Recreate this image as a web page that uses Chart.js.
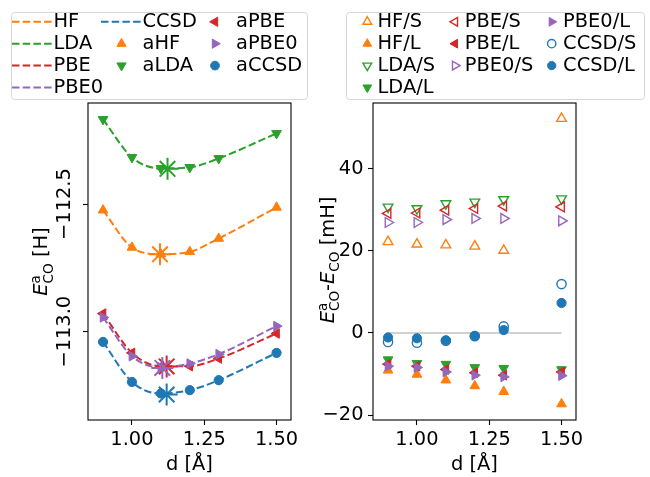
<!DOCTYPE html>
<html lang="en">
<head>
  <meta charset="UTF-8">
  <title>CO energies vs bond length</title>
  <style>
    html, body { margin: 0; padding: 0; background: #fff; }
    #wrap { position: relative; width: 650px; height: 477px; overflow: hidden; }
    canvas { position: absolute; top: 0; }
    #left { left: 0; }
    #right { left: 312px; }
  </style>
</head>
<body>
  <div id="wrap">
    <canvas id="left" width="312" height="477"></canvas>
    <canvas id="right" width="338" height="477"></canvas>
  </div>

  <script src="https://cdn.jsdelivr.net/npm/chart.js"></script>
  <script>
    // bond lengths d [Å]
    const dist = [0.9, 1.0, 1.1, 1.2, 1.3, 1.5];

    // left panel: E^a_CO [H]
    const aHF   = [-112.524, -112.670, -112.696, -112.687, -112.635, -112.513];
    const aLDA  = [-112.168, -112.317, -112.360, -112.356, -112.321, -112.223];
    const aPBE  = [-112.929, -113.083, -113.135, -113.135, -113.105, -113.007];
    const aPBE0 = [-112.944, -113.096, -113.140, -113.125, -113.088, -112.978];
    const aCCSD = [-113.040, -113.197, -113.242, -113.229, -113.190, -113.083];

    // minima of the fitted curves (HF, LDA, PBE, PBE0, CCSD)
    const minX = [1.097, 1.123, 1.120, 1.105, 1.120];
    const minY = [-112.697, -112.362, -113.136, -113.142, -113.246];

    // right panel: E^a_CO - E_CO [mH], small (S) and large (L) basis
    const hfS   = [22.2, 21.6, 21.4, 21.1, 20.1, 52.2];
    const hfL   = [-9.1, -10.1, -11.5, -12.9, -14.3, -17.3];
    const ldaS  = [30.7, 30.3, 31.5, 31.9, 32.5, 32.7];
    const ldaL  = [-6.5, -7.4, -7.6, -8.4, -8.6, -8.9];
    const pbeS  = [29.1, 29.2, 29.9, 30.3, 30.9, 30.7];
    const pbeL  = [-7.6, -8.1, -8.9, -9.7, -10.3, -9.5];
    const pbe0S = [26.9, 26.9, 27.6, 27.9, 27.9, 27.3];
    const pbe0L = [-8.1, -8.4, -9.5, -10.3, -10.7, -10.4];
    const ccsdS = [-2.2, -2.4, -1.9, -0.8, 1.6, 11.9];
    const ccsdL = [-1.1, -1.3, -1.8, -0.7, 0.7, 7.3];

    const zeroX = [0.9, 1.5];

    const xTicks = [1.0, 1.25, 1.5];
    const yTicksLeft = [-113.0, -112.5];
    const yTicksRight = [-20, 0, 20, 40];

    const C = { blue: '#1f77b4', orange: '#ff7f0e', green: '#2ca02c', red: '#d62728', purple: '#9467bd' };
    const FONT = { family: 'DejaVu Sans', size: 19.4 };
    const FONT_CSS = '19.4px "DejaVu Sans"';

    const pts = ys => dist.map((x, i) => ({ x, y: ys[i] }));
    const minus = s => s.replace('-', '\u2212');

    function lineDs(label, ys, color) {
      return {
        label, data: pts(ys), showLine: true, borderColor: color, borderWidth: 2,
        borderDash: [7.5, 3.2], pointRadius: 0, pointHoverRadius: 0,
        cubicInterpolationMode: 'monotone', fill: false
      };
    }

    function markDs(label, ys, color, style, rot, filled) {
      const r = style === 'circle' ? 4.6 : 5.6;
      return {
        label, data: pts(ys), showLine: false,
        pointStyle: style, pointRotation: rot, pointRadius: r, pointHoverRadius: r,
        pointBorderWidth: filled ? 1 : 1.4, pointBorderColor: color,
        pointBackgroundColor: filled ? color : 'rgba(0,0,0,0)',
        borderColor: color, backgroundColor: filled ? color : 'rgba(0,0,0,0)'
      };
    }

    function starDs(i, color) {
      return {
        data: [{ x: minX[i], y: minY[i] }], showLine: false,
        pointStyle: 'star', pointRadius: 11, pointHoverRadius: 11,
        pointBorderWidth: 2, pointBorderColor: color, borderColor: color
      };
    }

    // later datasets drawn on top, like matplotlib
    function stack(list) {
      list.forEach((d, i) => { d.order = -i; });
      return list;
    }

    // matplotlib style legend: column-major, fixed positions
    const mplLegend = {
      id: 'mplLegend',
      afterDraw(chart, args, o) {
        const ctx = chart.ctx;
        ctx.save();
        ctx.beginPath();
        if (ctx.roundRect) ctx.roundRect(o.x + 0.5, o.y + 0.5, o.w, o.h, 3);
        else ctx.rect(o.x + 0.5, o.y + 0.5, o.w, o.h);
        ctx.fillStyle = 'rgba(255,255,255,0.8)';
        ctx.fill();
        ctx.strokeStyle = '#d6d6d6';
        ctx.lineWidth = 1;
        ctx.stroke();

        const items = chart.data.datasets.filter(d => d.label);
        let k = 0;
        o.colSizes.forEach((n, c) => {
          const col = o.cols[c];
          for (let r = 0; r < n; r++, k++) {
            const ds = items[k];
            if (!ds) return;
            const y = o.rowY0 + r * o.rowStep;
            if (ds.showLine) {
              ctx.beginPath();
              ctx.setLineDash(ds.borderDash);
              ctx.strokeStyle = ds.borderColor;
              ctx.lineWidth = ds.borderWidth;
              ctx.moveTo(col.h0, y);
              ctx.lineTo(col.h1, y);
              ctx.stroke();
              ctx.setLineDash([]);
            } else {
              ctx.fillStyle = ds.pointBackgroundColor;
              ctx.strokeStyle = ds.pointBorderColor;
              ctx.lineWidth = ds.pointBorderWidth;
              Chart.helpers.drawPoint(ctx, {
                pointStyle: ds.pointStyle, rotation: ds.pointRotation || 0,
                radius: ds.pointRadius * o.markScale, borderWidth: ds.pointBorderWidth
              }, (col.h0 + col.h1) / 2, y);
            }
            ctx.fillStyle = '#000';
            ctx.font = FONT_CSS;
            ctx.textAlign = 'left';
            ctx.textBaseline = 'middle';
            ctx.fillText(ds.label, col.tx, y);
          }
        });
        ctx.restore();
      }
    };

    // full box frame + y label with sub/superscripts
    const axesDeco = {
      id: 'axesDeco',
      afterDatasetsDraw(chart, args, o) {
        const ctx = chart.ctx;
        const a = chart.chartArea;
        ctx.save();
        ctx.strokeStyle = '#000';
        ctx.lineWidth = 1.1;
        ctx.strokeRect(a.left, a.top, a.right - a.left, a.bottom - a.top);

        const size = o.size;
        const fontFor = p => (p.k === 'it' ? 'italic ' : '') +
          ((p.k === 'sup' || p.k === 'sub') ? size * 0.7 : size) + 'px "DejaVu Sans"';
        const shift = p => p.k === 'sup' ? -size * 0.36 : p.k === 'sub' ? size * 0.3 : 0;
        const items = [];
        let x = 0;
        for (let i = 0; i < o.parts.length; i++) {
          const p = o.parts[i];
          ctx.font = fontFor(p);
          const w = ctx.measureText(p.t).width;
          const q = o.parts[i + 1];
          if (p.k === 'sup' && q && q.k === 'sub') {
            ctx.font = fontFor(q);
            const w2 = ctx.measureText(q.t).width;
            items.push({ p, x }, { p: q, x });
            x += Math.max(w, w2);
            i++;
          } else {
            items.push({ p, x });
            x += w;
          }
        }
        ctx.translate(o.x, o.y);
        ctx.rotate(-Math.PI / 2);
        ctx.fillStyle = '#000';
        ctx.textAlign = 'left';
        ctx.textBaseline = 'alphabetic';
        items.forEach(it => {
          ctx.font = fontFor(it.p);
          ctx.fillText(it.p.t, it.x - x / 2, shift(it.p));
        });
        ctx.restore();
      }
    };

    function xScale() {
      return {
        type: 'linear', min: 0.848, max: 1.55,
        afterBuildTicks: s => { s.ticks = xTicks.map(v => ({ value: v })); },
        afterFit: s => { s.height = 57; },
        ticks: { autoSkip: false, padding: 3, color: '#000', font: FONT, maxRotation: 0, callback: v => v.toFixed(2) },
        grid: { drawOnChartArea: false, tickLength: 5, tickColor: '#000', tickWidth: 1.1 },
        border: { display: false },
        title: { display: true, text: 'd [Å]', color: '#000', font: FONT, padding: { top: 0, bottom: 0 } }
      };
    }

    const common = {
      responsive: false, animation: false, devicePixelRatio: 1, events: []
    };

    new Chart(document.getElementById('left'), {
      type: 'scatter',
      data: {
        datasets: stack([
          lineDs('HF', aHF, C.orange),
          lineDs('LDA', aLDA, C.green),
          lineDs('PBE', aPBE, C.red),
          lineDs('PBE0', aPBE0, C.purple),
          lineDs('CCSD', aCCSD, C.blue),
          markDs('aHF', aHF, C.orange, 'triangle', 0, true),
          markDs('aLDA', aLDA, C.green, 'triangle', 180, true),
          markDs('aPBE', aPBE, C.red, 'triangle', 270, true),
          markDs('aPBE0', aPBE0, C.purple, 'triangle', 90, true),
          markDs('aCCSD', aCCSD, C.blue, 'circle', 0, true),
          starDs(0, C.orange),
          starDs(1, C.green),
          starDs(2, C.red),
          starDs(3, C.purple),
          starDs(4, C.blue)
        ])
      },
      options: {
        ...common,
        layout: { padding: { top: 103, right: 21, bottom: 0, left: 0 } },
        scales: {
          x: xScale(),
          y: {
            type: 'linear', min: -113.346, max: -112.104,
            afterBuildTicks: s => { s.ticks = yTicksLeft.map(v => ({ value: v })); },
            afterFit: s => { s.width = 88; },
            ticks: {
              autoSkip: false, minRotation: 90, maxRotation: 90, crossAlign: 'center', padding: -17.6,
              color: '#000', font: FONT, callback: v => minus(v.toFixed(1))
            },
            grid: { drawOnChartArea: false, tickLength: 5, tickColor: '#000', tickWidth: 1.1 },
            border: { display: false }
          }
        },
        plugins: {
          legend: { display: false },
          tooltip: { enabled: false },
          mplLegend: {
            x: 11, y: 12, w: 296, h: 87, rowY0: 21.8, rowStep: 21.9, markScale: 0.95,
            colSizes: [4, 3, 3],
            cols: [{ h0: 12, h1: 53, tx: 53.5 }, { h0: 101, h1: 142, tx: 142.5 }, { h0: 194.5, h1: 235.5, tx: 236 }]
          },
          axesDeco: {
            x: 47, y: 261.5, size: 19.4,
            parts: [{ t: 'E', k: 'it' }, { t: 'a', k: 'sup' }, { t: 'CO', k: 'sub' }, { t: ' [H]', k: 'rm' }]
          }
        }
      },
      plugins: [axesDeco, mplLegend]
    });

    new Chart(document.getElementById('right'), {
      type: 'scatter',
      data: {
        datasets: stack([
          {
            data: zeroX.map(x => ({ x, y: 0 })), showLine: true, borderColor: 'rgba(190,190,190,0.7)',
            borderWidth: 2, pointRadius: 0, pointHoverRadius: 0
          },
          markDs('HF/S', hfS, C.orange, 'triangle', 0, false),
          markDs('HF/L', hfL, C.orange, 'triangle', 0, true),
          markDs('LDA/S', ldaS, C.green, 'triangle', 180, false),
          markDs('LDA/L', ldaL, C.green, 'triangle', 180, true),
          markDs('PBE/S', pbeS, C.red, 'triangle', 270, false),
          markDs('PBE/L', pbeL, C.red, 'triangle', 270, true),
          markDs('PBE0/S', pbe0S, C.purple, 'triangle', 90, false),
          markDs('PBE0/L', pbe0L, C.purple, 'triangle', 90, true),
          markDs('CCSD/S', ccsdS, C.blue, 'circle', 0, false),
          markDs('CCSD/L', ccsdL, C.blue, 'circle', 0, true)
        ])
      },
      options: {
        ...common,
        layout: { padding: { top: 103, right: 74, bottom: 0, left: 0 } },
        scales: {
          x: xScale(),
          y: {
            type: 'linear', min: -21.2, max: 56,
            afterBuildTicks: s => { s.ticks = yTicksRight.map(v => ({ value: v })); },
            afterFit: s => { s.width = 61; },
            ticks: { autoSkip: false, padding: 4.5, color: '#000', font: FONT, callback: v => minus(String(v)) },
            grid: { drawOnChartArea: false, tickLength: 5, tickColor: '#000', tickWidth: 1.1 },
            border: { display: false }
          }
        },
        plugins: {
          legend: { display: false },
          tooltip: { enabled: false },
          mplLegend: {
            x: 34, y: 12, w: 298, h: 87, rowY0: 21.8, rowStep: 21.9, markScale: 0.9,
            colSizes: [4, 3, 3],
            cols: [{ h0: 45.3, h1: 65.3, tx: 65.5 }, { h0: 133, h1: 153, tx: 152.8 }, { h0: 229.7, h1: 249.7, tx: 251.1 }]
          },
          axesDeco: {
            x: 21.5, y: 260, size: 19.4,
            parts: [
              { t: 'E', k: 'it' }, { t: 'a', k: 'sup' }, { t: 'CO', k: 'sub' }, { t: '-', k: 'rm' },
              { t: 'E', k: 'it' }, { t: 'CO', k: 'sub' }, { t: ' [mH]', k: 'rm' }
            ]
          }
        }
      },
      plugins: [axesDeco, mplLegend]
    });
  </script>
</body>
</html>
